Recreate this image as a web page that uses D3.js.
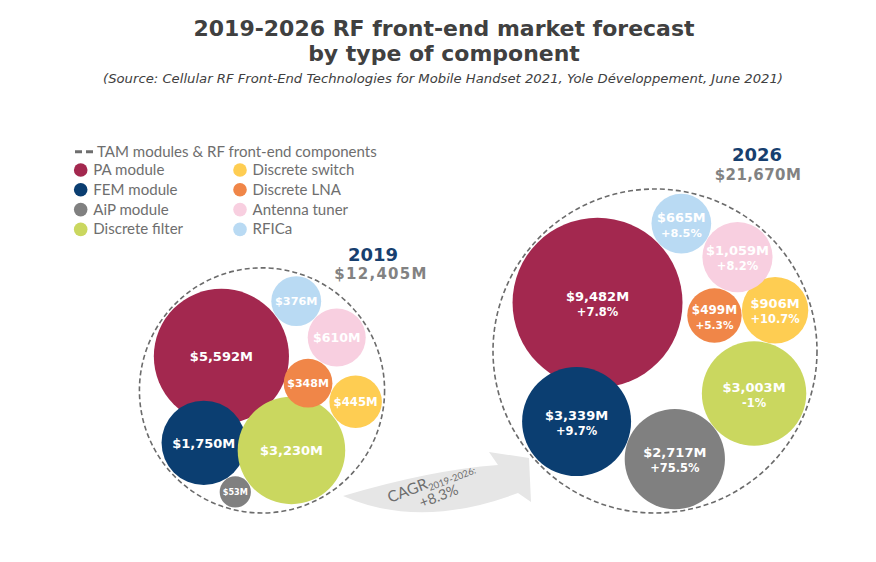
<!DOCTYPE html>
<html lang="en">
<head>
    <meta charset="UTF-8">
    <title>2019-2026 RF front-end market forecast by type of component</title>
    <script src="https://d3js.org/d3.v7.min.js"></script>
    <style>
        body { margin: 0; background: #fff; }
        svg { display: block; }
        .title { font-family: "DejaVu Sans", Verdana, sans-serif; font-weight: bold; fill: #404040; }
        .source { font-family: "DejaVu Sans", Verdana, sans-serif; font-style: italic; fill: #404040; }
        .legend text, .cagr { font-family: Lato, "Open Sans", sans-serif; fill: #6e6e6e; }
        .bubble-label { font-family: "DejaVu Sans", Verdana, sans-serif; font-weight: bold; fill: #fff; }
        .year { font-family: "DejaVu Sans", sans-serif; font-weight: bold; fill: #173f6f; }
        .total { font-family: "DejaVu Sans", sans-serif; font-weight: bold; fill: #828282; }
    </style>
</head>
<body>
<div id="chart"></div>
<script>
    // Data (US$ millions)
    const categories = ["PA module", "FEM module", "AiP module", "Discrete filter",
                        "Discrete switch", "Discrete LNA", "Antenna tuner", "RFICa"];
    const years = ["2019", "2026"];
    const totals = [12405, 21670];
    const values2019 = [5592, 1750, 53, 3230, 445, 348, 610, 376];
    const values2026 = [9482, 3339, 2717, 3003, 906, 499, 1059, 665];
    const cagr2026 = [7.8, 9.7, 75.5, -1, 10.7, 5.3, 8.2, 8.5];
    const cagrTotal = 8.3;

    const colors = ["#a3284f", "#0b3e71", "#808080", "#cad75f",
                    "#fecd52", "#f08648", "#f8cfe0", "#b9daf3"];

    const width = 876, height = 562;
    const svg = d3.select("#chart").append("svg")
        .attr("width", width)
        .attr("height", height);

    const color = d3.scaleOrdinal().domain(categories).range(colors);
    const rScale = d3.scaleSqrt().domain([0, 10000]).range([10, 87]);     // bubble radius
    const RScale = d3.scaleSqrt().domain([0, d3.max(totals)]).range([0, 162]); // TAM circle
    const xScale = d3.scalePoint().domain(years).range([262, 655]);
    const baseY = 513;

    const fmtValue = v => d3.format("$,")(v) + "M";
    const fmtPct = v => (v > 0 ? "+" : "") + v + "%";

    // grow / shrink a text's font-size so it spans the given width
    function fitWidth(sel, w) {
        const len = sel.node().getComputedTextLength();
        const fs = parseFloat(sel.attr("font-size"));
        sel.attr("font-size", fs * w / len);
        return fs * w / len;
    }
    // squeeze a text horizontally (keeps its height), returns the ratio used
    function squeeze(sel, ratio) {
        const len = sel.node().getComputedTextLength();
        sel.attr("textLength", len * ratio).attr("lengthAdjust", "spacingAndGlyphs");
    }

    // Bubbles sit against the rim of the TAM circle: PA and FEM at fixed angles,
    // the others chained tangent to their neighbour, LNA tucked in between.
    function layoutCluster(values, R, cx, cy) {
        const pad = 2, gap = 0.5, rad = Math.PI / 180;
        const nodes = categories.map((c, i) => ({ name: c, value: values[i], r: rScale(values[i]), i }));
        const byName = Object.fromEntries(nodes.map(n => [n.name, n]));
        const put = (n, a) => {
            n.angle = a;
            n.D = R - pad - n.r;
            n.x = cx + n.D * Math.cos(a * rad);
            n.y = cy + n.D * Math.sin(a * rad);
        };
        put(byName["PA module"], 220);
        put(byName["FEM module"], 138);
        const chain = (start, list, dir) => {
            let prev = byName[start];
            list.forEach(name => {
                const n = byName[name];
                const D = R - pad - n.r, s = prev.r + n.r + gap;
                const c = (D * D + prev.D * prev.D - s * s) / (2 * D * prev.D);
                put(n, prev.angle + dir * Math.acos(Math.max(-1, Math.min(1, c))) / rad);
                prev = n;
            });
        };
        chain("FEM module", ["AiP module", "Discrete filter", "Discrete switch"], -1);
        chain("PA module", ["RFICa", "Antenna tuner"], 1);

        const a = byName["Discrete switch"], b = byName["Antenna tuner"], n = byName["Discrete LNA"];
        const ra = a.r + n.r + gap, rb = b.r + n.r + gap;
        const dx = b.x - a.x, dy = b.y - a.y, d = Math.hypot(dx, dy);
        const t = (ra * ra - rb * rb + d * d) / (2 * d);
        const h = Math.sqrt(Math.max(0, ra * ra - t * t));
        const mx = a.x + t * dx / d, my = a.y + t * dy / d;
        const p1 = [mx - h * dy / d, my + h * dx / d], p2 = [mx + h * dy / d, my - h * dx / d];
        const p = Math.hypot(p1[0] - cx, p1[1] - cy) < Math.hypot(p2[0] - cx, p2[1] - cy) ? p1 : p2;
        n.x = p[0]; n.y = p[1];
        return nodes;
    }

    // ---- titles
    const t1 = svg.append("text").attr("class", "title")
        .attr("x", 444).attr("y", 36).attr("text-anchor", "middle").attr("font-size", 22)
        .text("2019-2026 RF front-end market forecast");
    const ratio = 501 / t1.node().getComputedTextLength();
    squeeze(t1, ratio);
    const t2 = svg.append("text").attr("class", "title")
        .attr("x", 444).attr("y", 61).attr("text-anchor", "middle").attr("font-size", 22)
        .text("by type of component");
    squeeze(t2, ratio);
    const src = svg.append("text").attr("class", "source")
        .attr("x", 443).attr("y", 83).attr("text-anchor", "middle").attr("font-size", 12)
        .text("(Source: Cellular RF Front-End Technologies for Mobile Handset 2021, Yole Développement, June 2021)");
    squeeze(src, 680 / src.node().getComputedTextLength());

    // ---- growth arrow
    svg.append("path")
        .attr("d", "M343,496 Q420,530 518,493 L531,502 L529,458 L489,452 L498,465 Q430,470 343,496 Z")
        .attr("fill", "#e6e6e6");

    const cagr = svg.append("g").attr("class", "cagr")
        .attr("transform", "translate(390,503) rotate(-21)");
    const cagrLine = cagr.append("text").attr("font-size", 15.5);
    cagrLine.append("tspan").text("CAGR");
    cagrLine.append("tspan").attr("font-size", 9.5).attr("dy", 3).text(`${years[0]}-${years[1]}:`);
    cagr.append("text").attr("x", 28).attr("y", 16).attr("font-size", 14.5).text(fmtPct(cagrTotal));

    // ---- the two clusters
    const series = [values2019, values2026];
    const headers = [
        { yearX: 373, totalX: 381, yearY: 261, totalY: 279 },
        { yearX: 757, totalX: 758, yearY: 161, totalY: 180 }
    ];

    years.forEach((year, yi) => {
        const R = RScale(totals[yi]);
        const cx = xScale(year), cy = baseY - R;
        const nodes = layoutCluster(series[yi], R, cx, cy);
        const g = svg.append("g");

        g.append("circle")
            .attr("cx", cx).attr("cy", cy).attr("r", R)
            .attr("fill", "none")
            .attr("stroke", "#6b6b6b")
            .attr("stroke-width", 1.6)
            .attr("stroke-dasharray", "5,3");

        g.selectAll("circle.bubble")
            .data(nodes)
            .join("circle")
            .attr("class", "bubble")
            .attr("cx", d => d.x).attr("cy", d => d.y).attr("r", d => d.r)
            .attr("fill", d => color(d.name));

        const labels = g.selectAll("text.bubble-label")
            .data(nodes)
            .join("text")
            .attr("class", "bubble-label")
            .attr("text-anchor", "middle")
            .attr("font-size", d => Math.min(13, 3 + d.r * 0.33));

        if (yi === 0) {
            labels.attr("x", d => d.x).attr("y", d => d.y).attr("dy", "0.36em")
                .text(d => fmtValue(d.value));
        } else {
            labels.append("tspan").attr("x", d => d.x).attr("y", d => d.y - 2)
                .text(d => fmtValue(d.value));
            labels.append("tspan").attr("x", d => d.x).attr("y", d => d.y + 13)
                .attr("font-size", d => Math.min(13, 3 + d.r * 0.33) * 0.88)
                .text(d => fmtPct(cagr2026[d.i]));
        }

        const hd = headers[yi];
        svg.append("text").attr("class", "year")
            .attr("x", hd.yearX).attr("y", hd.yearY).attr("text-anchor", "middle")
            .attr("font-size", 18).text(year);
        svg.append("text").attr("class", "total")
            .attr("x", hd.totalX).attr("y", hd.totalY).attr("text-anchor", "middle")
            .attr("font-size", 15).attr("letter-spacing", yi === 0 ? 1.3 : 0.4)
            .text(fmtValue(totals[yi]));
    });

    // ---- legend
    const legend = svg.append("g").attr("class", "legend");
    legend.append("line")
        .attr("x1", 75).attr("x2", 93).attr("y1", 151.7).attr("y2", 151.7)
        .attr("stroke", "#6e6e6e").attr("stroke-width", 3).attr("stroke-dasharray", "7,4");
    const lt = legend.append("text").attr("x", 97).attr("y", 157).attr("font-size", 14)
        .text("TAM modules & RF front-end components");
    const legendSize = fitWidth(lt, 280);

    const items = legend.selectAll("g.item")
        .data(categories)
        .join("g")
        .attr("class", "item")
        .attr("transform", (d, i) => `translate(${80.7 + Math.floor(i / 4) * 159.3},${170 + (i % 4) * 19.8})`);
    items.append("circle").attr("r", 6.8).attr("fill", d => color(d));
    items.append("text").attr("x", 12.6).attr("y", 5).attr("font-size", legendSize).text(d => d);
</script>
</body>
</html>
